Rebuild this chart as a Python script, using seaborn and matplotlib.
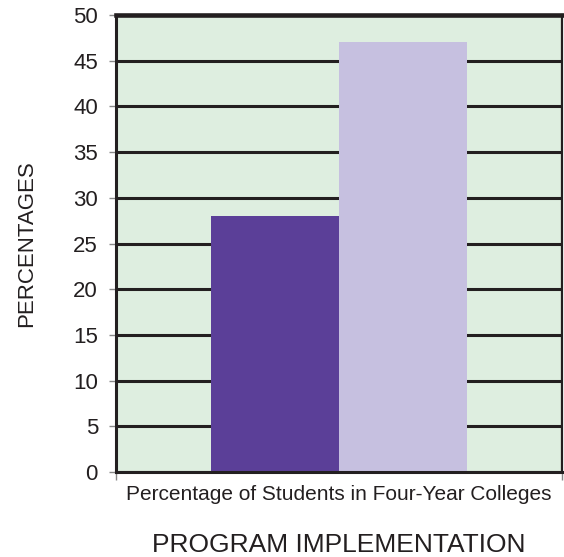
import matplotlib
matplotlib.use("Agg")
import matplotlib.pyplot as plt
import seaborn as sns
import pandas as pd

categories = ["Percentage of Students in Four-Year Colleges"]
groups = ["Group A", "Group B"]
values = [28, 47]
yticks = [0, 5, 10, 15, 20, 25, 30, 35, 40, 45, 50]
colors = ["#5B3F98", "#C6C0E0"]

sns.set_theme(style="white")
plt.rcParams['font.family'] = ['Liberation Sans', 'DejaVu Sans']

df = pd.DataFrame({"cat": categories * 2, "grp": groups, "val": values})

fig = plt.figure(figsize=(5.64, 5.57), dpi=100)
ax = fig.add_axes([116/564, 1 - 472/557, (562-116)/564, (472-15)/557])
ax.set_facecolor("#DEEEE0")
ax.set_axisbelow(True)
ax.yaxis.grid(True, color="#231F20", linewidth=2.2)

sns.barplot(data=df, x="cat", y="val", hue="grp", palette=colors, width=0.572,
            saturation=1, dodge=True, legend=False, ax=ax, linewidth=0)

ax.set_xlim(-0.5, 0.5)
ax.set_ylim(0, 50)
ax.set_yticks(yticks)
ax.set_yticklabels([str(t) for t in yticks], fontsize=16, color="#231F20")
ax.tick_params(axis="y", which="major", left=True, length=5, width=1, color="#888888", pad=8)
ax.tick_params(axis="x", which="major", bottom=False, labelsize=15, pad=3, labelcolor="#231F20")
ax.set_xticks([-0.5, 0.5], minor=True)
ax.tick_params(axis="x", which="minor", bottom=True, length=6, width=1, color="#888888")

for name, sp in ax.spines.items():
    sp.set_visible(True)
    sp.set_color("#231F20")
ax.spines["top"].set_linewidth(3.3)
ax.spines["left"].set_linewidth(2.2)
ax.spines["bottom"].set_linewidth(2.2)
ax.spines["right"].set_linewidth(1.6)

ax.set_xlabel("PROGRAM IMPLEMENTATION", fontsize=19, labelpad=21, color="#231F20")
ax.set_ylabel("PERCENTAGES", fontsize=16, labelpad=26, color="#231F20")

fig.savefig("out.png", dpi=100)
